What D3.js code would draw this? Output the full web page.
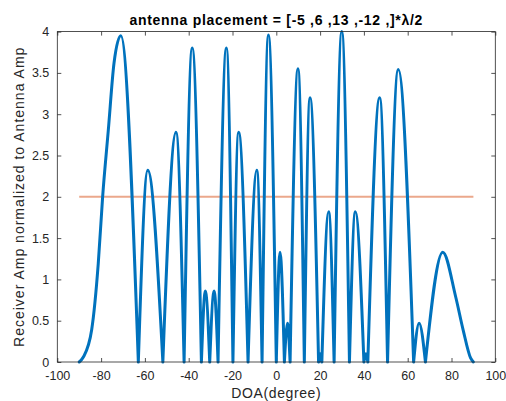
<!DOCTYPE html>
<html>
<head>
<meta charset="utf-8">
<script src="https://cdn.jsdelivr.net/npm/d3@7"></script>
<style>
  body { margin: 0; background: #fff; }
  svg { display: block; font-family: "Liberation Sans", Arial, Helvetica, sans-serif; }
</style>
</head>
<body>
<svg id="chart" width="506" height="401"></svg>
<script>
const TITLE = "antenna placement = [-5 ,6 ,13 ,-12 ,]*λ/2";
const X_LABEL = "DOA(degree)";
const Y_LABEL = "Receiver Amp normalized to Antenna Amp";

// points: nulls (0), lobe tops, a few shoulder points
const doaDeg = [
  -90, -88.1, -84.3, -81.3, -79.3, -76.7, -74.1, -71.0, -63.0,
  -58.7, -51.8, -45.8, -42.1, -38.4, -34.2, -32.4, -30.4, -28.4, -26.6,
  -22.8, -19.8, -17.2, -12.9, -8.9, -6.5, -3.6, 0.0, 1.7, 3.7, 5.1, 6.3,
  9.9, 12.8, 15.4, 19.3, 20.0, 20.8, 23.9, 26.4, 29.9, 33.4, 36.1,
  40.0, 40.9, 41.8, 47.2, 50.8, 55.7, 62.7, 65.2, 68.1,
  76.0, 81.9, 85.3, 88.7, 90
];
const ampValues = [
  0, 0.06, 0.39, 1.19, 2.0, 2.81, 3.62, 3.95, 0,
  2.32, 0, 2.78, 0, 3.80, 0, 0.86, 0, 0.86, 0,
  3.80, 0, 2.78, 0, 2.32, 0, 3.96, 0, 1.33, 0, 0.47, 0,
  3.55, 0, 3.20, 0, 0.10, 0, 1.82, 0, 4.00, 0, 1.82,
  0, 0.10, 0, 3.20, 0, 3.54, 0, 0.47, 0,
  1.33, 0.79, 0.39, 0.05, 0
];

// horizontal reference level
const refDoa = [-90, 90];
const refAmp = [2, 2];

const xTicks = [-100, -80, -60, -40, -20, 0, 20, 40, 60, 80, 100];
const yTicks = [0, 0.5, 1, 1.5, 2, 2.5, 3, 3.5, 4];

function responseChart() {
    let margin = { top: 31.6, right: 10.7, bottom: 39, left: 57.3 },
        width = 506 - margin.left - margin.right,
        height = 401 - margin.top - margin.bottom;

    const axisColor = "#262626";

    // split the samples into lobes, one at each null, so nulls stay sharp
    function splitLobes(xs, ys) {
        const lobes = [];
        let cur = [];
        xs.forEach((x, i) => {
            cur.push([x, ys[i]]);
            if (ys[i] === 0 && cur.length > 1) {
                lobes.push(cur);
                cur = [[x, ys[i]]];
            }
        });
        return lobes;
    }

    function chart(selector) {
        const svg = d3.select(selector);
        const g = svg.append("g")
            .attr("transform", `translate(${margin.left},${margin.top})`);

        const x = d3.scaleLinear().domain([-100, 100]).range([0, width]);
        const y = d3.scaleLinear().domain([0, 4]).range([height, 0]);

        // Axes
        // ----------------------------------------
        const styleAxis = sel => {
            sel.select(".domain").remove();
            sel.selectAll("line").attr("stroke", axisColor).attr("stroke-width", 0.8);
            sel.selectAll("text").attr("fill", axisColor).attr("font-size", 12.5);
        };

        g.append("g")
            .attr("transform", `translate(0,${height})`)
            .call(d3.axisBottom(x).tickValues(xTicks).tickFormat(d => String(d))
                .tickSizeInner(-4).tickSizeOuter(0).tickPadding(9))
            .call(styleAxis);
        g.append("g")
            .call(d3.axisTop(x).tickValues(xTicks).tickFormat("")
                .tickSizeInner(-4).tickSizeOuter(0))
            .call(styleAxis);
        g.append("g")
            .call(d3.axisLeft(y).tickValues(yTicks).tickFormat(d => String(d))
                .tickSizeInner(-4).tickSizeOuter(0).tickPadding(8))
            .call(styleAxis);
        g.append("g")
            .attr("transform", `translate(${width},0)`)
            .call(d3.axisRight(y).tickValues(yTicks).tickFormat("")
                .tickSizeInner(-4).tickSizeOuter(0))
            .call(styleAxis);

        // Lines
        // ----------------------------------------
        const line = d3.line()
            .x(d => x(d[0]))
            .y(d => y(d[1]));

        g.append("path")
            .attr("d", line(refDoa.map((d, i) => [d, refAmp[i]])))
            .attr("fill", "none")
            .attr("stroke", "#EBA88C")
            .attr("stroke-width", 2);

        const lobeLine = d3.line()
            .x(d => x(d[0]))
            .y(d => y(d[1]))
            .curve(d3.curveMonotoneX);

        g.append("path")
            .attr("d", splitLobes(doaDeg, ampValues).map(lobeLine).join(""))
            .attr("fill", "none")
            .attr("stroke", "#0072BD")
            .attr("stroke-width", 3)
            .attr("stroke-linejoin", "round")
            .attr("stroke-linecap", "round");

        // box
        g.append("rect")
            .attr("width", width)
            .attr("height", height)
            .attr("fill", "none")
            .attr("stroke", axisColor)
            .attr("stroke-width", 0.8);

        // Labels
        // ----------------------------------------
        g.append("text")
            .attr("x", width / 2)
            .attr("y", -7)
            .attr("text-anchor", "middle")
            .attr("font-weight", "bold")
            .attr("font-size", 14)
            .attr("letter-spacing", 0.7)
            .attr("fill", "#000")
            .text(TITLE);

        g.append("text")
            .attr("x", width / 2)
            .attr("y", height + 36)
            .attr("text-anchor", "middle")
            .attr("font-size", 14)
            .attr("letter-spacing", 0.6)
            .attr("fill", axisColor)
            .text(X_LABEL);

        g.append("text")
            .attr("transform", `translate(${-33},${height / 2}) rotate(-90)`)
            .attr("text-anchor", "middle")
            .attr("font-size", 14)
            .attr("letter-spacing", 1)
            .attr("fill", axisColor)
            .text(Y_LABEL);
    }

    return chart;
}

responseChart()("#chart");
</script>
</body>
</html>
